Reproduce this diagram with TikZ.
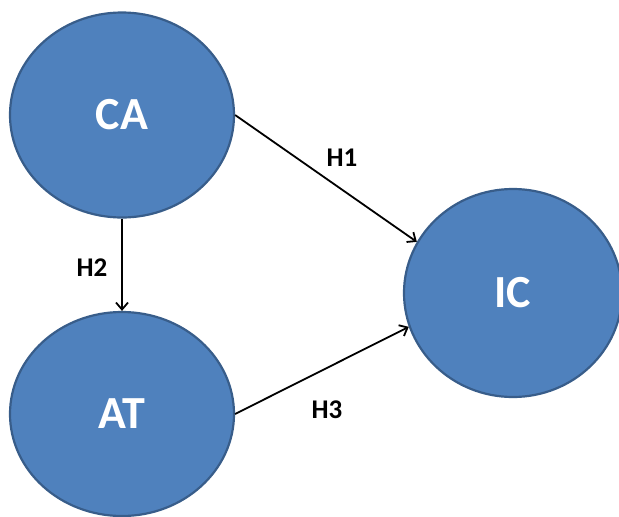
\documentclass[tikz,border=0pt]{standalone}
\usepackage{fontspec}
\setmainfont{Carlito}
\usepackage{tikz}
\usetikzlibrary{shapes.geometric, arrows.meta}
\definecolor{blob}{HTML}{4F81BD}
\definecolor{blobedge}{HTML}{385D8A}

\begin{document}
\begin{tikzpicture}[x=1pt, y=-1pt,
		construct/.style={ellipse, fill=blob, draw=blobedge, line width=2.2pt, text=white,
			font=\bfseries\fontsize{46}{46}\selectfont, inner sep=0pt},
		hyp/.style={-{Straight Barb[length=7pt, width=12pt]}, line width=1.8pt},
		hlabel/.style={font=\bfseries\fontsize{27}{27}\selectfont}]
		\useasboundingbox (0,0) rectangle (619,517);
		\node[construct, minimum width=224pt, minimum height=205pt] (CA) at (122,115){CA};
		\node[construct, minimum width=224pt, minimum height=204pt] (AT) at (122,414){AT};
		\node[construct, minimum width=218pt, minimum height=208pt] (IC) at (513,293){IC};
%		\draw[step=50pt, thin] (0,0) grid (619,517);
		\draw[hyp] (CA.east) -- (IC.152);
		\draw[hyp] (CA.south) -- (AT.north);
		\draw[hyp] (AT.east) -- (IC.198);
		\node[hlabel] (h1) at (342,158){H1};
		\node[hlabel] (h2) at (92,268){H2};
		\node[hlabel] (h3) at (327,410){H3};
	\end{tikzpicture}
\end{document}
